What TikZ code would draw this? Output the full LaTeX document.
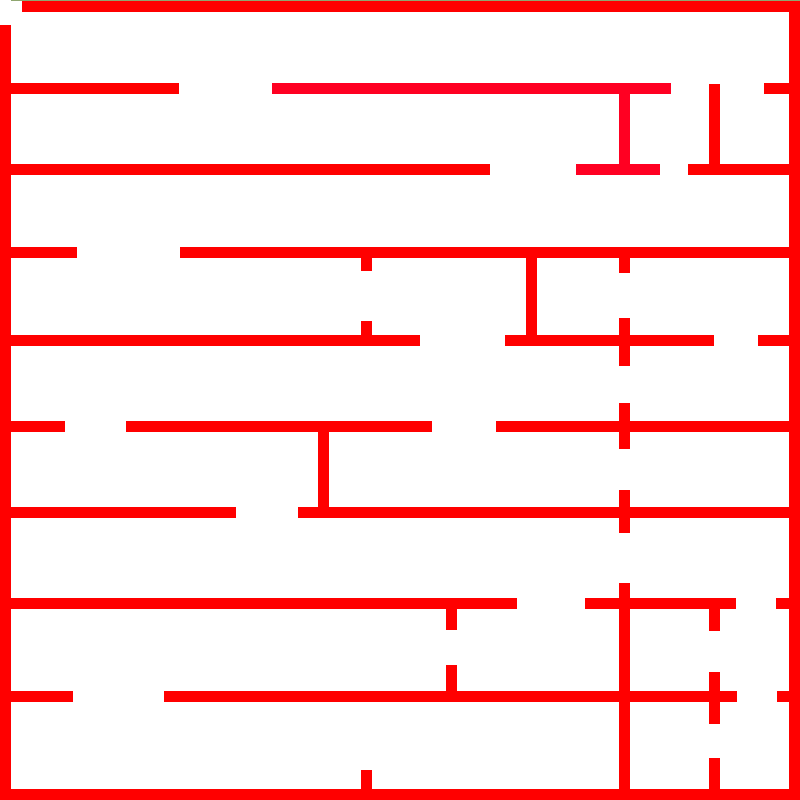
\documentclass[tikz,border=0pt]{standalone}
\definecolor{wallred}{RGB}{255,0,0}
\definecolor{wallpink}{RGB}{255,0,34}
\definecolor{sage}{RGB}{143,166,112}
\tikzset{
  wall/.style={fill=wallred},
  pinkwall/.style={fill=wallpink},
}
\begin{document}
\begin{tikzpicture}[x=1pt,y=-1pt]
\useasboundingbox[fill=white] (0,0) rectangle (800,800);
% thin top edge
\fill[sage] (11,0) rectangle (800,1);
% outer walls
\fill[wall] (22,1) rectangle (800,12);
\fill[wall] (0,25) rectangle (11,800);
\fill[wall] (789,1) rectangle (800,800);
\fill[wall] (0,789) rectangle (800,800);
% row 1
\fill[wall] (11,83) rectangle (179,94);
\fill[pinkwall] (272,83) rectangle (671,94);
\fill[pinkwall] (619,94) rectangle (630,164);
\fill[wall] (709,84) rectangle (720,175);
\fill[wall] (764,83) rectangle (789,94);
% row 2
\fill[wall] (11,164) rectangle (490,175);
\fill[pinkwall] (576,164) rectangle (660,175);
\fill[wall] (688,164) rectangle (789,175);
% row 3
\fill[wall] (11,247) rectangle (77,258);
\fill[wall] (180,247) rectangle (789,258);
\fill[wall] (361,258) rectangle (372,271);
\fill[wall] (526,258) rectangle (537,335);
\fill[wall] (619,258) rectangle (630,273);
% row 4
\fill[wall] (11,335) rectangle (420,346);
\fill[wall] (361,321) rectangle (372,335);
\fill[wall] (505,335) rectangle (714,346);
\fill[wall] (619,318) rectangle (630,366);
\fill[wall] (758,335) rectangle (789,346);
% row 5
\fill[wall] (11,421) rectangle (65,432);
\fill[wall] (126,421) rectangle (432,432);
\fill[wall] (318,432) rectangle (329,507);
\fill[wall] (496,421) rectangle (789,432);
\fill[wall] (619,403) rectangle (630,449);
% row 6
\fill[wall] (11,507) rectangle (236,518);
\fill[wall] (298,507) rectangle (789,518);
\fill[wall] (619,490) rectangle (630,533);
% row 7
\fill[wall] (11,598) rectangle (517,609);
\fill[wall] (446,609) rectangle (457,630);
\fill[wall] (585,598) rectangle (736,609);
\fill[wall] (619,583) rectangle (630,789);
\fill[wall] (709,609) rectangle (720,631);
\fill[wall] (776,598) rectangle (789,609);
% row 8
\fill[wall] (11,691) rectangle (73,702);
\fill[wall] (164,691) rectangle (737,702);
\fill[wall] (446,665) rectangle (457,691);
\fill[wall] (709,672) rectangle (720,724);
\fill[wall] (777,691) rectangle (789,702);
% bottom stubs
\fill[wall] (361,770) rectangle (372,789);
\fill[wall] (709,758) rectangle (720,789);
\end{tikzpicture}
\end{document}
